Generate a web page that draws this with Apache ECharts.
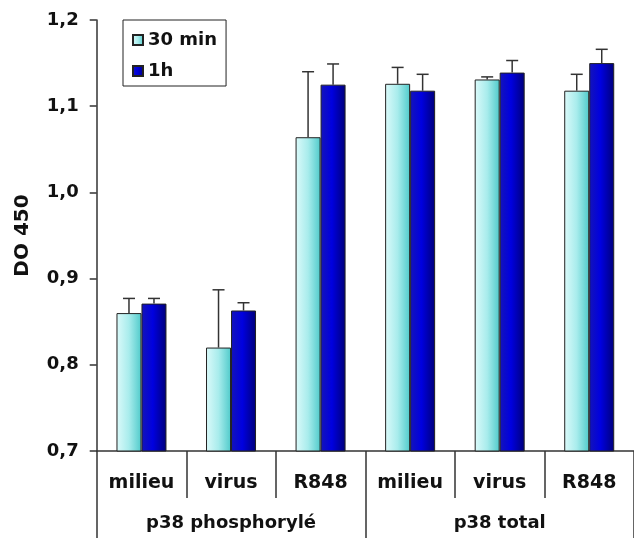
<!DOCTYPE html>
<html>
<head>
<meta charset="utf-8">
<script src="https://cdn.jsdelivr.net/npm/echarts@6/dist/echarts.min.js"></script>
<style>html,body{margin:0;padding:0;background:#fff}#c{width:634px;height:538px}</style>
</head>
<body>
<div id="c"></div>
<script>
// ---- data ----
const categories = ['milieu', 'virus', 'R848', 'milieu', 'virus', 'R848'];
const groups = ['p38 phosphorylé', 'p38 total'];
const seriesNames = ['30 min', '1h'];
const values30 = [0.860, 0.820, 1.064, 1.126, 1.131, 1.118];
const values1h = [0.871, 0.863, 1.125, 1.118, 1.139, 1.150];
const err30 = [0.017, 0.067, 0.076, 0.019, 0.003, 0.019];
const err1h = [0.006, 0.009, 0.024, 0.019, 0.014, 0.016];
const yTicks = [0.7, 0.8, 0.9, 1.0, 1.1, 1.2];
const yName = 'DO 450';

// ---- style ----
const FONT = 'DejaVu Sans';
const BAR_W = 25;
const AXIS_COLOR = '#333';
const grad30 = new echarts.graphic.LinearGradient(0, 0, 1, 0, [
  {offset: 0, color: '#dcfafa'}, {offset: 0.5, color: '#a8ecec'}, {offset: 1, color: '#4fcaca'}
]);
const grad1h = new echarts.graphic.LinearGradient(0, 0, 1, 0, [
  {offset: 0, color: '#1414b8'}, {offset: 0.45, color: '#0000e0'}, {offset: 1, color: '#00007a'}
]);

function errSeries(vals, errs, dx) {
  return {
    type: 'custom',
    xAxisIndex: 0, yAxisIndex: 0,
    z: 5,
    silent: true,
    data: vals.map((v, i) => [i, v, errs[i]]),
    renderItem: function (params, api) {
      const i = api.value(0);
      const v = api.value(1);
      const e = api.value(2);
      const p0 = api.coord([i, v]);
      const p1 = api.coord([i, v + e]);
      const x = p0[0] + dx;
      const cap = 6;
      return {
        type: 'group',
        children: [
          {type: 'line', shape: {x1: x, y1: p0[1], x2: x, y2: p1[1]}, style: {stroke: '#333', lineWidth: 1.5}},
          {type: 'line', shape: {x1: x - cap, y1: p1[1], x2: x + cap, y2: p1[1]}, style: {stroke: '#333', lineWidth: 1.5}}
        ]
      };
    }
  };
}

const chart = echarts.init(document.getElementById('c'), null, {renderer: 'canvas'});
chart.setOption({
  backgroundColor: '#fff',
  animation: false,
  textStyle: {fontFamily: FONT},
  legend: {
    data: seriesNames,
    orient: 'vertical',
    left: 123, top: 20,
    icon: 'rect',
    borderColor: '#222', borderWidth: 1,
    padding: [11, 9, 6, 9],
    itemWidth: 10, itemHeight: 10, itemGap: 13,
    textStyle: {fontFamily: FONT, fontWeight: 'bold', fontSize: 18, color: '#111'}
  },
  grid: {left: 96.7, right: -4, top: 20, bottom: 87, containLabel: false},
  xAxis: [
    {
      type: 'category', data: categories, position: 'bottom',
      axisLine: {show: true, lineStyle: {color: AXIS_COLOR, width: 1.5}},
      axisTick: {show: true, interval: 0, length: 47, lineStyle: {color: AXIS_COLOR, width: 1.5}},
      axisLabel: {interval: 0, margin: 23, fontFamily: FONT, fontWeight: 'bold', fontSize: 19, color: '#111'}
    },
    {
      type: 'category', data: groups, position: 'bottom', gridIndex: 0,
      axisLine: {show: false},
      axisTick: {show: true, interval: 0, length: 90, lineStyle: {color: AXIS_COLOR, width: 1.5}},
      axisLabel: {interval: 0, margin: 63, fontFamily: FONT, fontWeight: 'bold', fontSize: 18, color: '#111'}
    }
  ],
  yAxis: {
    type: 'value', min: yTicks[0], max: yTicks[yTicks.length - 1], interval: 0.1,
    name: yName, nameLocation: 'middle', nameGap: 64, nameRotate: 90,
    nameTextStyle: {fontFamily: FONT, fontWeight: 'bold', fontSize: 20, color: '#111'},
    axisLine: {show: true, lineStyle: {color: AXIS_COLOR, width: 1.5}},
    axisTick: {show: true, length: 7, lineStyle: {color: AXIS_COLOR, width: 1.5}},
    splitLine: {show: false},
    axisLabel: {
      margin: 18, fontFamily: FONT, fontWeight: 'bold', fontSize: 18, color: '#111',
      formatter: v => v.toFixed(1).replace('.', ',')
    }
  },
  series: [
    {
      name: seriesNames[0], type: 'bar', data: values30, barWidth: BAR_W, barGap: '0%',
      itemStyle: {color: grad30, borderColor: '#222', borderWidth: 1}
    },
    {
      name: seriesNames[1], type: 'bar', data: values1h, barWidth: BAR_W, barGap: '0%',
      itemStyle: {color: grad1h, borderColor: '#222', borderWidth: 1}
    },
    errSeries(values30, err30, -BAR_W / 2),
    errSeries(values1h, err1h, BAR_W / 2)
  ]
});
</script>
</body>
</html>
